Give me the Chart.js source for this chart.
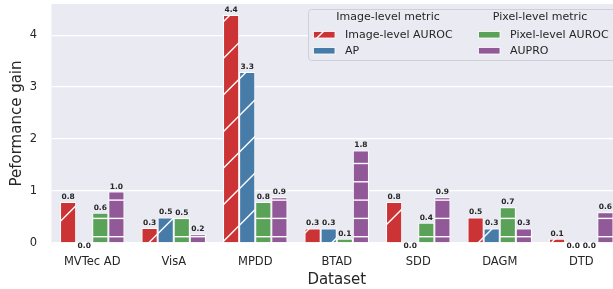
<!DOCTYPE html>
<html>
<head>
<meta charset="utf-8">
<script src="https://cdn.jsdelivr.net/npm/chart.js@4.4.0/dist/chart.umd.min.js"></script>
<style>
    html, body { margin: 0; padding: 0; background: #fff; overflow: hidden; }
    #contenedor { width: 622px; height: 289px; position: relative; }
</style>
</head>
<body>
<div id="contenedor"><canvas id="grafico"></canvas></div>
<script>
const categorias = ['MVTec AD', 'VisA', 'MPDD', 'BTAD', 'SDD', 'DAGM', 'DTD'];
const imageAuroc = [0.79, 0.29, 4.39, 0.28, 0.79, 0.49, 0.08];
const imageAp = [0.0, 0.49, 3.29, 0.28, 0.0, 0.28, 0.0];
const pixelAuroc = [0.58, 0.48, 0.79, 0.08, 0.39, 0.69, 0.0];
const pixelAupro = [0.99, 0.17, 0.88, 1.78, 0.88, 0.28, 0.59];
const yTicks = [0, 1, 2, 3, 4];
const nombresSeries = ['Image-level AUROC', 'AP', 'Pixel-level AUROC', 'AUPRO'];
const titulosLeyenda = ['Image-level metric', 'Pixel-level metric'];

const FUENTE = '"DejaVu Sans", "Liberation Sans", sans-serif';
const TEXTO = '#262626';
const FONDO = '#eaeaf2';

Chart.defaults.font.family = FUENTE;
Chart.defaults.color = TEXTO;

// hatch '/' : lineas x + y = cte, periodo 36.6 px
function patronDiagonal(color) {
    const p = 36.6, lado = 183;
    const c = document.createElement('canvas');
    c.width = lado; c.height = lado;
    const g = c.getContext('2d');
    g.fillStyle = color;
    g.fillRect(0, 0, lado, lado);
    g.strokeStyle = '#fff';
    g.lineWidth = 1.4;
    for (let k = -2; k <= 12; k++) {
        const s = 25.5 + k * p;
        g.beginPath();
        g.moveTo(s + 10, -10);
        g.lineTo(-10, s + 10);
        g.stroke();
    }
    return g.createPattern(c, 'repeat');
}

// hatch '-' : lineas horizontales, periodo 18.3 px
function patronHorizontal(color) {
    const p = 18.3, alto = 183;
    const c = document.createElement('canvas');
    c.width = 10; c.height = alto;
    const g = c.getContext('2d');
    g.fillStyle = color;
    g.fillRect(0, 0, 10, alto);
    g.strokeStyle = '#fff';
    g.lineWidth = 1.4;
    for (let k = -1; k <= 10; k++) {
        const y = 17.1 + k * p;
        g.beginPath();
        g.moveTo(0, y);
        g.lineTo(10, y);
        g.stroke();
    }
    return g.createPattern(c, 'repeat');
}

const colores = ['#cb3335', '#477ca8', '#59a257', '#915998'];
const rellenos = [
    patronDiagonal(colores[0]),
    patronDiagonal(colores[1]),
    patronHorizontal(colores[2]),
    patronHorizontal(colores[3])
];
const valores = [imageAuroc, imageAp, pixelAuroc, pixelAupro];

const fondoPlugin = {
    id: 'fondo',
    beforeDraw: function (chart) {
        const a = chart.chartArea;
        const ctx = chart.ctx;
        ctx.save();
        ctx.fillStyle = FONDO;
        ctx.fillRect(a.left, a.top, a.right - a.left, a.bottom - a.top);
        ctx.restore();
    }
};

const etiquetasPlugin = {
    id: 'etiquetas',
    afterDatasetsDraw: function (chart) {
        const ctx = chart.ctx;
        ctx.save();
        ctx.font = 'bold 7.5px ' + FUENTE;
        ctx.fillStyle = TEXTO;
        ctx.textAlign = 'center';
        ctx.textBaseline = 'middle';
        chart.data.datasets.forEach(function (ds, i) {
            chart.getDatasetMeta(i).data.forEach(function (bar, j) {
                const v = ds.data[j];
                const y = v > 0 ? bar.y - 5 : bar.base + 3;
                ctx.fillText(v.toFixed(1), bar.x, y);
            });
        });
        ctx.restore();
    }
};

const leyendaPlugin = {
    id: 'leyenda',
    afterDraw: function (chart) {
        const ctx = chart.ctx;
        ctx.save();
        ctx.beginPath();
        ctx.roundRect(308.5, 9.5, 330, 51, 3);
        ctx.fillStyle = FONDO;
        ctx.fill();
        ctx.strokeStyle = '#cfcfd6';
        ctx.lineWidth = 1;
        ctx.stroke();

        ctx.font = '11px ' + FUENTE;
        ctx.fillStyle = TEXTO;
        ctx.textBaseline = 'middle';
        ctx.textAlign = 'center';
        ctx.fillText(titulosLeyenda[0], 388, 17.5);
        ctx.fillText(titulosLeyenda[1], 540, 17.5);

        const columnas = [313.5, 478.5];
        const filas = [31.5, 47.5];
        ctx.textAlign = 'left';
        nombresSeries.forEach(function (nombre, i) {
            const x = columnas[Math.floor(i / 2)];
            const y = filas[i % 2];
            ctx.fillStyle = i === 0 ? rellenos[0] : colores[i];
            ctx.fillRect(x, y, 21.5, 6.5);
            ctx.strokeStyle = '#fff';
            ctx.lineWidth = 0.8;
            ctx.strokeRect(x, y, 21.5, 6.5);
            ctx.fillStyle = TEXTO;
            ctx.fillText(nombre, x + 31.5, y + 3.3);
        });
        ctx.restore();
    }
};

new Chart(document.getElementById('grafico').getContext('2d'), {
    type: 'bar',
    data: {
        labels: categorias,
        datasets: valores.map(function (serie, i) {
            return {
                label: nombresSeries[i],
                data: serie,
                backgroundColor: rellenos[i],
                borderColor: '#fff',
                borderWidth: 1,
                categoryPercentage: 0.79,
                barPercentage: 1.0
            };
        })
    },
    plugins: [fondoPlugin, etiquetasPlugin, leyendaPlugin],
    options: {
        responsive: true,
        maintainAspectRatio: false,
        animation: false,
        layout: { padding: { top: 4, right: 0, left: 0, bottom: 0 } },
        plugins: {
            legend: { display: false },
            tooltip: { enabled: false }
        },
        scales: {
            x: {
                grid: { display: false, drawTicks: false },
                border: { display: false },
                ticks: { font: { size: 11.5 }, color: TEXTO, padding: 12 },
                title: {
                    display: true,
                    text: 'Dataset',
                    font: { size: 15 },
                    color: TEXTO,
                    padding: { top: 0, bottom: 0 }
                },
                afterFit: function (scale) {
                    scale.height = 46;
                    scale.paddingLeft = 0;
                    scale.paddingRight = 0;
                }
            },
            y: {
                min: 0,
                max: 4.6,
                afterBuildTicks: function (scale) {
                    scale.ticks = yTicks.map(function (v) { return { value: v }; });
                },
                grid: { color: '#fff', lineWidth: 1.3, drawTicks: false },
                border: { display: false },
                ticks: { font: { size: 11.5 }, color: TEXTO, padding: 14.5 },
                title: {
                    display: true,
                    text: 'Peformance gain',
                    font: { size: 15 },
                    color: TEXTO,
                    padding: { top: 8, bottom: 0 }
                },
                afterFit: function (scale) {
                    scale.width = 51.5;
                    scale.paddingTop = 0;
                    scale.paddingBottom = 0;
                }
            }
        }
    }
});
</script>
</body>
</html>
